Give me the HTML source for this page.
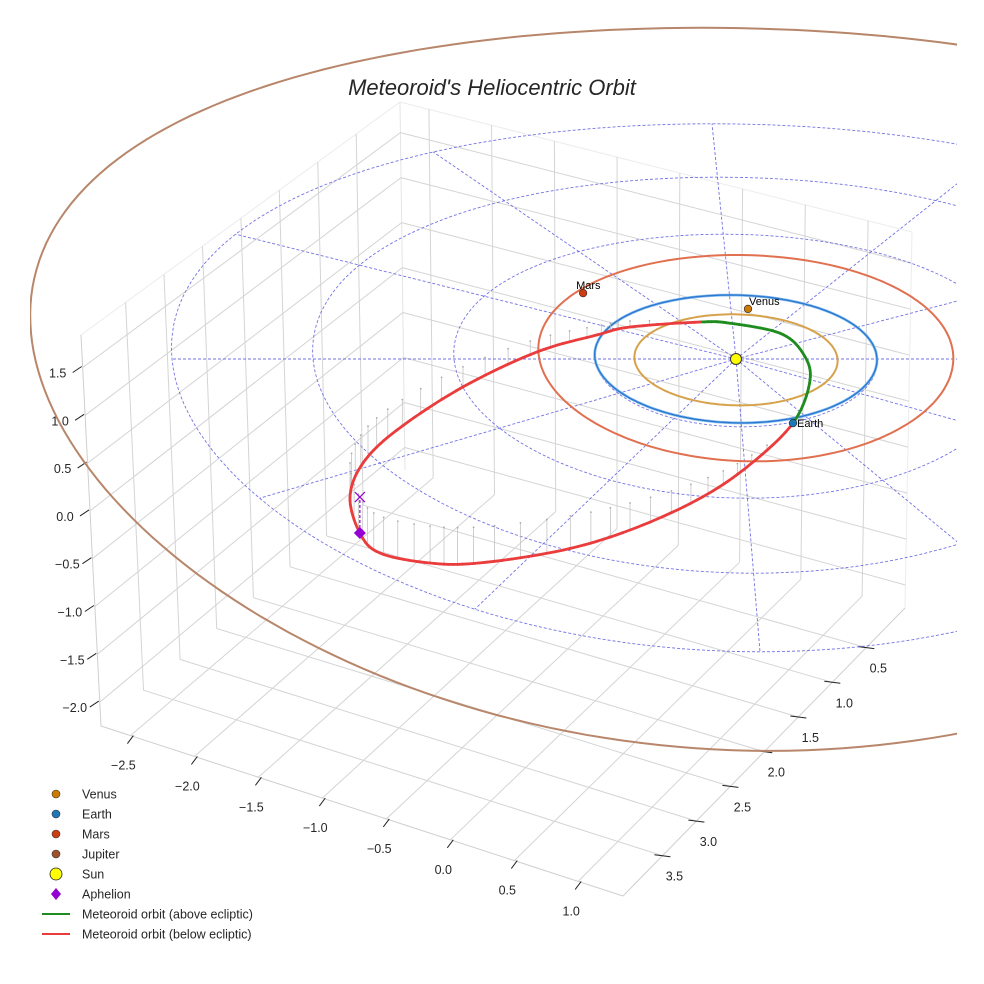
<!DOCTYPE html>
<html><head><meta charset="utf-8">
<style>
html,body{margin:0;padding:0;background:#fff;}
svg{display:block;font-family:"Liberation Sans",sans-serif;}
</style></head>
<body>
<svg id="chart" width="984" height="984" viewBox="0 0 984 984" xmlns="http://www.w3.org/2000/svg">
<defs><clipPath id="clipE"><rect x="30" y="0" width="927" height="984"/></clipPath></defs>
<text x="492" y="95" text-anchor="middle" font-size="22" font-style="italic" fill="#262626">Meteoroid's Heliocentric Orbit</text>
<g id="box"></g>
<g id="ecl" clip-path="url(#clipE)"></g>
<g id="legend"></g>
</svg>
<script>
// ---- axis ticks ----
const xTicks = [-2.5,-2.0,-1.5,-1.0,-0.5,0.0,0.5,1.0];
const yTicks = [0.5,1.0,1.5,2.0,2.5,3.0,3.5];
const zTicks = [1.5,1.0,0.5,0.0,-0.5,-1.0,-1.5,-2.0];
const xLim = [-2.73,1.35], yLim = [-0.07,4.08], zLim = [-2.25,1.84];
// ---- planet orbits (ecliptic, AU) ----
const orbitNames = ['Venus','Earth','Mars','Jupiter'];
const orbitRU = [0.72,1.0,1.47,5.0];
const orbitRV = [0.69,0.97,1.57,5.6];
const orbitCU = [0,0,0.073,0.017];
const orbitCV = [0,-0.026,-0.08,-0.4];
// ---- planet positions ----
const planetNames = ['Venus','Earth','Mars'];
const planetU = [0.118,0.364,-1.041];
const planetV = [-0.775,0.947,-1.028];
// ---- meteoroid orbit samples (u, v, z in AU) ----
const orbU = [0.364,0.510,0.477,0.327,-0.021,-0.231,-0.727,-0.964,-1.398,-1.941,-2.432,-2.691,-2.802,-2.752,-2.621,-2.271,-1.918,-1.323,-0.840,-0.353,0.016];
const orbV = [0.947,0.347,-0.045,-0.353,-0.522,-0.569,-0.585,-0.508,-0.306,0.12,0.655,1.075,1.513,1.984,2.242,2.377,2.389,2.256,2.066,1.778,1.444];
const orbZ = [0,0.02,0.03,0.03,0.02,0,-0.067,-0.1,-0.144,-0.222,-0.3,-0.344,-0.378,-0.4,-0.411,-0.411,-0.4,-0.367,-0.3,-0.2,-0.1];
const aphelion = [-2.752,1.984,-0.4];
const gridRadii = [1,2,3,4];
const gridAngles = [0,30,60,90,120,150,180,210,240,270,300,330];

const NS='http://www.w3.org/2000/svg';
function mk(parent,tag,attrs){const e=document.createElementNS(NS,tag);for(const k in attrs)e.setAttribute(k,attrs[k]);parent.appendChild(e);return e;}

const C = {
 '000':[405,470],'100':[905,608],'010':[101,726],'110':[623,896],
 '001':[400,102],'101':[912,232],'011':[81,335],'111':[603,505]};
function box(x,y,z){
 const a=(x-xLim[0])/(xLim[1]-xLim[0]), b=(y-yLim[0])/(yLim[1]-yLim[0]), c=(z-zLim[0])/(zLim[1]-zLim[0]);
 let X=0,Y=0;
 for(const i of [0,1])for(const j of [0,1])for(const k of [0,1]){
  const w=(i?a:1-a)*(j?b:1-b)*(k?c:1-c); const p=C[''+i+j+k]; X+=w*p[0]; Y+=w*p[1];}
 return [X,Y];
}
function ecl(u,v,z){return [736+141*u+6*v, 359+66*v+1.8*v*v-90*(z||0)];}

const boxG=document.getElementById('box');
function bline(p,q,col,w,name){
 const l=mk(boxG,'line',{x1:p[0].toFixed(1),y1:p[1].toFixed(1),x2:q[0].toFixed(1),y2:q[1].toFixed(1),stroke:col,'stroke-width':w});
 
 
}
const GC='#d4d4d4';
bline(box(xLim[0],yLim[0],zLim[1]),box(xLim[0],yLim[1],zLim[1]),'#ececec',1,'pane-edge');
bline(box(xLim[0],yLim[0],zLim[1]),box(xLim[1],yLim[0],zLim[1]),'#ececec',1,'pane-edge');
bline(box(xLim[0],yLim[0],zLim[0]),box(xLim[0],yLim[0],zLim[1]),'#e4e4e4',1,'pane-edge');
bline(box(xLim[1],yLim[0],zLim[0]),box(xLim[1],yLim[0],zLim[1]),'#ececec',1,'pane-edge');
yTicks.forEach(y=>bline(box(xLim[0],y,zLim[0]),box(xLim[0],y,zLim[1]),GC,1,'y-gridline-wall'));
zTicks.forEach(z=>bline(box(xLim[0],yLim[0],z),box(xLim[0],yLim[1],z),GC,1,'z-gridline-left'));
xTicks.forEach(x=>bline(box(x,yLim[0],zLim[0]),box(x,yLim[0],zLim[1]),GC,1,'x-gridline-wall'));
zTicks.forEach(z=>bline(box(xLim[0],yLim[0],z),box(xLim[1],yLim[0],z),GC,1,'z-gridline-back'));
xTicks.forEach(x=>bline(box(x,yLim[0],zLim[0]),box(x,yLim[1],zLim[0]),GC,1,'x-gridline-floor'));
yTicks.forEach(y=>bline(box(xLim[0],y,zLim[0]),box(xLim[1],y,zLim[0]),GC,1,'y-gridline-floor'));
bline(box(xLim[0],yLim[1],zLim[0]),box(xLim[1],yLim[1],zLim[0]),'#cfcfcf',1,'x-axis-line');
bline(box(xLim[1],yLim[0],zLim[0]),box(xLim[1],yLim[1],zLim[0]),'#cfcfcf',1,'y-axis-line');
bline(box(xLim[0],yLim[1],zLim[0]),box(xLim[0],yLim[1],zLim[1]),'#cfcfcf',1,'z-axis-line');
function lbl(x,y,t,name,anchor){
 const e=mk(boxG,'text',{x:x.toFixed(1),y:y.toFixed(1),'font-size':'12.5','text-anchor':anchor||'middle',fill:'#262626'});
 e.textContent=t;
 
 
}
xTicks.forEach(x=>{const p=box(x,yLim[1],zLim[0]);bline([p[0]-3,p[1]+8],[p[0]+3,p[1]],'#222',1,'x-tick');lbl(p[0]-7,p[1]+34,x.toFixed(1).replace('-','\u2212'),'x-tick-label');});
yTicks.forEach(y=>{const p=box(xLim[1],y,zLim[0]);bline([p[0]-8,p[1]-1],[p[0]+8,p[1]+1],'#222',1,'y-tick');lbl(p[0]+12,p[1]+25,y.toFixed(1),'y-tick-label');});
zTicks.forEach(z=>{const p=box(xLim[0],yLim[1],z);bline([p[0]-10,p[1]+5],[p[0]-1,p[1]-1],'#222',1,'z-tick');lbl(p[0]-25,p[1]+10,z.toFixed(1).replace('-','\u2212'),'z-tick-label');});

const E=document.getElementById('ecl');
function pathFrom(pts){return 'M'+pts.map(p=>p[0].toFixed(1)+','+p[1].toFixed(1)).join('L');}
gridRadii.forEach(r=>{const pts=[];for(let i=0;i<=180;i++){const t=i/180*2*Math.PI;pts.push(ecl(r*Math.cos(t),r*Math.sin(t),0));}
 const e=mk(E,'path',{d:pathFrom(pts),fill:'none',stroke:'#5a5ae0','stroke-width':0.9,'stroke-dasharray':'3,2',opacity:0.85});
 
 });
gridAngles.forEach(a=>{const t=a*Math.PI/180;const p=ecl(0,0,0),q=ecl(4*Math.cos(t),4*Math.sin(t),0);
 const e=mk(E,'line',{x1:p[0],y1:p[1],x2:q[0],y2:q[1],stroke:'#5a5ae0','stroke-width':0.9,'stroke-dasharray':'3,2',opacity:0.85});
 
 });
const orbitColors=['#d6a24c','#2a78d0','#e07050','#b8866a'];
orbitNames.forEach((n,i)=>{const pts=[];for(let k=0;k<=240;k++){const t=k/240*2*Math.PI;pts.push(ecl(orbitCU[i]+orbitRU[i]*Math.cos(t),orbitCV[i]+orbitRV[i]*Math.sin(t),0));}
 if(n==='Earth'){const h=mk(E,'path',{d:pathFrom(pts),fill:'none',stroke:'#8cc0ee','stroke-width':2.8});
  
  }
 const e=mk(E,'path',{d:pathFrom(pts),fill:'none',stroke:orbitColors[i],'stroke-width':n==='Earth'?1.4:2});
 
 });
const N=orbU.length, SUB=10, sm=[];
for(let i=0;i<N;i++){const i0=(i-1+N)%N,i1=i,i2=(i+1)%N,i3=(i+2)%N;
 for(let s=0;s<SUB;s++){const t=s/SUB,t2=t*t,t3=t2*t;
  const cr=a=>0.5*(2*a[i1]+(-a[i0]+a[i2])*t+(2*a[i0]-5*a[i1]+4*a[i2]-a[i3])*t2+(-a[i0]+3*a[i1]-3*a[i2]+a[i3])*t3);
  sm.push([cr(orbU),cr(orbV),cr(orbZ)]);}}
sm.forEach((p,k)=>{if(k%3!==0||p[2]>-0.03)return;const a=ecl(p[0],p[1],p[2]),b=ecl(p[0],p[1],0);
 const l=mk(E,'line',{x1:a[0].toFixed(1),y1:a[1].toFixed(1),x2:b[0].toFixed(1),y2:b[1].toFixed(1),stroke:'#bdbdbd','stroke-width':0.7});
 
 
 const d=mk(E,'circle',{cx:b[0].toFixed(1),cy:b[1].toFixed(1),r:0.9,fill:'#aaa'});
 
 });
for(let k=0;k<sm.length;k++){const p=sm[k],q=sm[(k+1)%sm.length];const above=(p[2]+q[2])/2>=0;
 const a=ecl(p[0],p[1],p[2]),b=ecl(q[0],q[1],q[2]);
 const l=mk(E,'line',{x1:a[0].toFixed(1),y1:a[1].toFixed(1),x2:b[0].toFixed(1),y2:b[1].toFixed(1),stroke:above?'#1e8c1e':'#ea3c3c','stroke-width':2.8,'stroke-linecap':'round'});
 
 }
(function(){const a=ecl(aphelion[0],aphelion[1],aphelion[2]),b=ecl(aphelion[0],aphelion[1],0);
 const l=mk(E,'line',{x1:a[0],y1:a[1],x2:b[0],y2:b[1],stroke:'#9400d3','stroke-width':1.2,'stroke-dasharray':'3,2'});
 
 
 const x=mk(E,'path',{d:`M${b[0]-5},${b[1]-5}L${b[0]+5},${b[1]+5}M${b[0]-5},${b[1]+5}L${b[0]+5},${b[1]-5}`,stroke:'#9400d3','stroke-width':1.2});
 
 
 const d=mk(E,'path',{d:`M${a[0]},${a[1]-6}L${a[0]+6},${a[1]}L${a[0]},${a[1]+6}L${a[0]-6},${a[1]}Z`,fill:'#9400d3'});
 
 })();
(function(){const p=ecl(0,0,0);const s=mk(E,'circle',{cx:p[0],cy:p[1],r:5.5,fill:'#ffff00',stroke:'#333','stroke-width':1});
 
 })();
const planetColors={Venus:'#cc7a00',Earth:'#1f77b4',Mars:'#cc3d10'};
planetNames.forEach((n,i)=>{const p=ecl(planetU[i],planetV[i],0);
 const c=mk(E,'circle',{cx:p[0].toFixed(1),cy:p[1].toFixed(1),r:3.8,fill:planetColors[n],stroke:'#222','stroke-width':0.6});
 
 
 const dx=n==='Earth'?4:(n==='Mars'?-7:1), dy=n==='Earth'?4:-4;
 const t=mk(E,'text',{x:(p[0]+dx).toFixed(1),y:(p[1]+dy).toFixed(1),'font-size':'11',fill:'#000'});
 t.textContent=n;
 
 });

const L=document.getElementById('legend');
const legNames=['Venus','Earth','Mars','Jupiter','Sun','Aphelion','Meteoroid orbit (above ecliptic)','Meteoroid orbit (below ecliptic)'];
const legCols=['#cc7a00','#1f77b4','#cc3d10','#a0522d','#ffff00','#9400d3','#1e8c1e','#ea3c3c'];
legNames.forEach((n,i)=>{const y=794+i*20;let m;
 if(i<4)m=mk(L,'circle',{cx:56,cy:y,r:4,fill:legCols[i],stroke:'#333','stroke-width':0.6});
 else if(i===4)m=mk(L,'circle',{cx:56,cy:y,r:6,fill:legCols[i],stroke:'#222','stroke-width':0.8});
 else if(i===5)m=mk(L,'path',{d:`M56,${y-6}L61,${y}L56,${y+6}L51,${y}Z`,fill:legCols[i]});
 else m=mk(L,'line',{x1:42,y1:y,x2:70,y2:y,stroke:legCols[i],'stroke-width':2});
 
 
 const t=mk(L,'text',{x:82,y:y+4.5,'font-size':'12.5',fill:'#262626'});
 t.textContent=n;
 
 });
</script>
</body></html>
